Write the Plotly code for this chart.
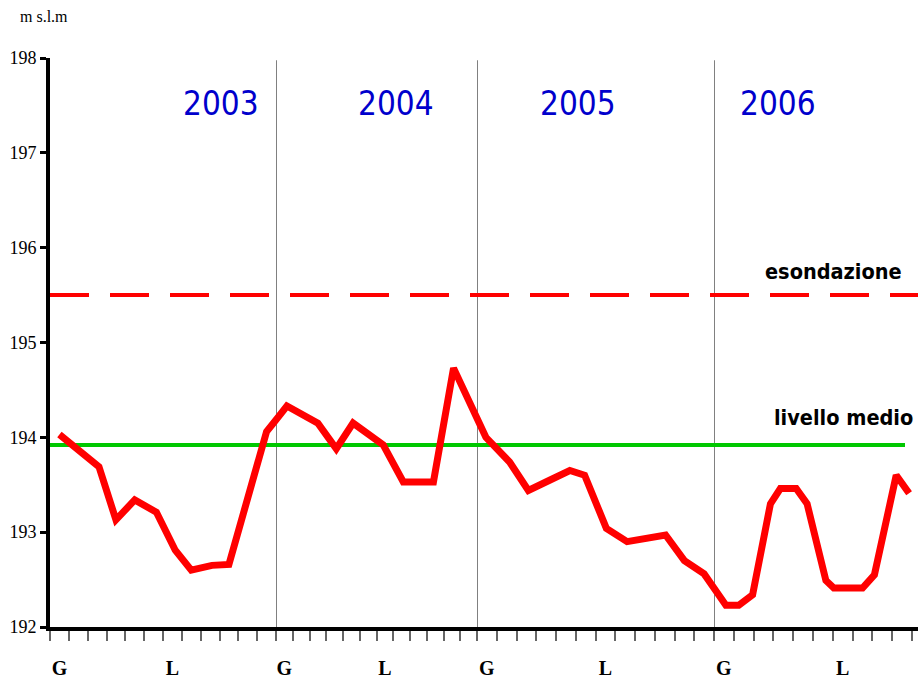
import plotly.graph_objects as go

# ---------------- data ----------------
years = ["2003", "2004", "2005", "2006"]
month_labels = ["G", "L"]          # Gennaio, Luglio
month_label_pos = [0.5, 6.5]

m2003 = [0.5, 2.6, 3.5, 4.5, 5.65, 6.65, 7.5, 8.6, 9.5, 11.5]
v2003 = [194.03, 193.69, 193.13, 193.34, 193.21, 192.81, 192.60, 192.65, 192.66, 194.06]

m2004 = [0.65, 2.5, 3.6, 4.6, 6.4, 7.6, 9.4, 10.6]
v2004 = [194.33, 194.15, 193.88, 194.15, 193.92, 193.53, 193.53, 194.73]

m2005 = [0.45, 1.65, 2.6, 3.7, 4.7, 5.45, 6.55, 7.6, 9.55, 10.5, 11.5]
v2005 = [194.00, 193.74, 193.44, 193.55, 193.65, 193.60, 193.04, 192.90, 192.97, 192.70, 192.56]

m2006 = [0.6, 1.25, 1.95, 2.85, 3.35, 4.15, 4.7, 5.65, 6.05, 7.5, 8.1, 9.2, 9.85]
v2006 = [192.23, 192.23, 192.34, 193.30, 193.46, 193.46, 193.30, 192.49, 192.41, 192.41, 192.55, 193.60, 193.41]

livello_medio = 193.92
esondazione = 195.5
y_ticks = [192, 193, 194, 195, 196, 197, 198]

months = [m2003, m2004, m2005, m2006]
values = [v2003, v2004, v2005, v2006]

# ---------------- layout geometry (page pixels) ----------------
W, H = 918, 685
PLOT_L, PLOT_R, PLOT_T, PLOT_B = 50, 918, 58, 627
ML, MR, MT, MB = PLOT_L, W - PLOT_R, PLOT_T, H - PLOT_B
PW = PLOT_R - PLOT_L
PH = PLOT_B - PLOT_T
# pixel edges of each year's panel (year widths differ in the original)
edges_px = [50, 276, 477, 714, 918]
ranges = [12, 12, 12, 10.3]
domains = [[(edges_px[i] - PLOT_L) / PW, (edges_px[i + 1] - PLOT_L) / PW] for i in range(4)]
domains[-1][1] = 1.0
scale = [(edges_px[i + 1] - edges_px[i]) / ranges[i] for i in range(4)]  # px per month

fig = go.Figure()

axnames = ["x", "x2", "x3", "x4"]
for i in range(4):
    xs = list(months[i])
    ys = list(values[i])
    # carry the neighbouring points across the panel boundary (in this panel's units)
    if i > 0:
        xs = [(months[i - 1][-1] - ranges[i - 1]) * scale[i - 1] / scale[i]] + xs
        ys = [values[i - 1][-1]] + ys
    if i < 3:
        xs = xs + [ranges[i] + months[i + 1][0] * scale[i + 1] / scale[i]]
        ys = ys + [values[i + 1][0]]
    fig.add_trace(go.Scatter(
        x=xs, y=ys, xaxis=axnames[i], yaxis="y", mode="lines",
        line=dict(color="#FF0000", width=7),
        showlegend=False, hoverinfo="skip",
    ))

for i in range(4):
    key = "xaxis" if i == 0 else f"xaxis{i+1}"
    fig.layout[key] = dict(
        domain=domains[i], range=[0, ranges[i]], anchor="y", automargin=False,
        showline=True, linewidth=4, linecolor="black",
        showgrid=False, zeroline=False,
        tickmode="array", tickvals=month_label_pos, ticktext=month_labels,
        ticks="outside", ticklen=20, tickcolor="rgba(0,0,0,0)",
        tickfont=dict(family="Liberation Serif, Times New Roman, serif", size=20, color="black",
                      weight="bold"),
        minor=dict(tickmode="array", tickvals=list(range(0, 13)), ticks="outside",
                   ticklen=10, tickwidth=2, tickcolor="#666666", showgrid=False),
        fixedrange=True,
    )

fig.update_layout(
    width=W, height=H,
    margin=dict(l=ML, r=MR, t=MT, b=MB, pad=0, autoexpand=False),
    paper_bgcolor="white", plot_bgcolor="white",
    yaxis=dict(
        range=[192, 198], anchor="x", tickmode="array", tickvals=y_ticks, automargin=False,
        showline=True, linewidth=4, linecolor="black",
        ticks="outside", ticklen=6, tickwidth=3, tickcolor="black",
        showgrid=False, zeroline=False, fixedrange=True,
        tickfont=dict(family="Liberation Serif, Times New Roman, serif", size=18, color="black"),
    ),
)

# year separators
for i in range(1, 4):
    fig.add_shape(type="line", xref=axnames[i], yref="paper", x0=0, x1=0, y0=0, y1=0.996,
                  line=dict(color="#808080", width=2), layer="below")

# reference levels
fig.add_shape(type="line", xref="paper", yref="y", x0=0, x1=1, y0=esondazione, y1=esondazione,
              line=dict(color="#FF0000", width=4, dash="39px,21px"), layer="below")
fig.add_shape(type="line", xref="paper", yref="y", x0=0, x1=(905 - PLOT_L) / PW,
              y0=livello_medio, y1=livello_medio,
              line=dict(color="#00C800", width=4), layer="below")


def py(ypix):
    return 1 - (ypix - PLOT_T) / PH


def px(xpix):
    return (xpix - PLOT_L) / PW


narrow = "Liberation Sans Narrow, Arial Narrow, DejaVu Sans Condensed, sans-serif"
year_centers = [221, 396, 578, 778]
for yr, xc in zip(years, year_centers):
    fig.add_annotation(text=yr, xref="paper", yref="paper", x=px(xc), y=py(104),
                       xanchor="center", yanchor="middle", showarrow=False,
                       font=dict(family=narrow, size=33, color="#0000CC"))

label_font = dict(family=narrow, size=21.5, color="black", weight="bold")
fig.add_annotation(text="esondazione", xref="paper", yref="paper", x=px(904), y=py(271),
                   xanchor="right", yanchor="middle", showarrow=False, font=label_font)
fig.add_annotation(text="livello medio", xref="paper", yref="paper", x=px(915), y=py(417),
                   xanchor="right", yanchor="middle", showarrow=False, font=label_font)

fig.add_annotation(text="m s.l.m", xref="paper", yref="paper", x=px(44), y=py(17),
                   xanchor="center", yanchor="middle", showarrow=False,
                   font=dict(family="Liberation Serif, Times New Roman, serif", size=16, color="black"))

fig.write_html(
    "out.html",
    config={"displayModeBar": False, "staticPlot": True},
    post_script=("document.documentElement.style.overflow='hidden';"
                 "document.body.style.overflow='hidden';"
                 "document.body.style.margin='0';"),
)
